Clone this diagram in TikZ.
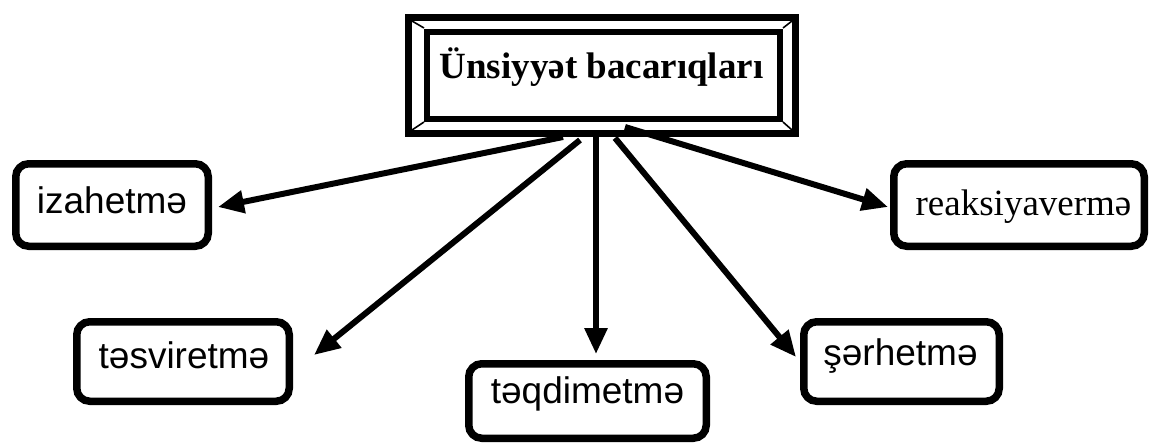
\documentclass[tikz,border=0pt]{standalone}
\usepackage{fontspec}
\setmainfont{Liberation Serif}
\newfontfamily\arialf{Liberation Sans}
\usetikzlibrary{arrows.meta,calc}
\tikzset{
  box/.style={draw, line width=7.5pt, rounded corners=13pt, inner sep=0pt},
  lblsans/.style={font=\arialf\fontsize{37}{44}\selectfont, inner sep=0pt, anchor=base},
  lblserif/.style={font=\fontsize{37}{44}\selectfont, inner sep=0pt, anchor=base},
  arr/.style={line width=6pt, -{Triangle[length=26pt,width=22pt]}},
  bevel/.style={line width=1.6pt}
}
\begin{document}
\begin{tikzpicture}[x=1pt,y=-1pt]
\useasboundingbox (0,0) rectangle (1150,445);
% title frame
\node[draw, line width=7pt, minimum width=387pt, minimum height=116pt, inner sep=0pt] (title) at (602,75.5) {};
\node[draw, line width=6pt, minimum width=353pt, minimum height=87pt, inner sep=0pt] (titlein) at (603.5,75) {};
\draw[bevel] (412,21) -- (424,28);
\draw[bevel] (792,21) -- (783,28);
\draw[bevel] (412,130) -- (424,122);
\draw[bevel] (792,130) -- (783,122);
\node[font=\bfseries\fontsize{37}{44}\selectfont, inner sep=0pt, anchor=base] (titletext) at (601.5,78) {Ünsiyyət bacarıqları};
% boxes
\node[box, minimum width=192.5pt, minimum height=82.5pt] (iz) at (112,205) {};
\node[lblsans] (iztext) at (112,213) {izahetmə};
\node[box, minimum width=250.5pt, minimum height=82.5pt] (re) at (1019,205) {};
\node[lblserif] (retext) at (1023.5,215) {reaksiyavermə};
\node[box, minimum width=212.5pt, minimum height=79.5pt] (ts) at (183,361.5) {};
\node[lblsans] (tstext) at (184,368) {təsviretmə};
\node[box, minimum width=237.5pt, minimum height=74.5pt] (tq) at (587.5,401) {};
\node[lblsans] (tqtext) at (587.5,403) {təqdimetmə};
\node[box, minimum width=195.5pt, minimum height=79.5pt] (sr) at (901.5,361.5) {};
\node[lblsans] (srtext) at (900.5,365) {şərhetmə};
% arrows
\draw[arr] ($(title.center)+(-39,61.5)$) -- ($(iz.east)+(6,2)$);
\draw[arr] ($(title.center)+(-22,64.5)$) -- ($(ts.east)+(21,-6.5)$);
\draw[arr] ($(title.center)+(-6,58)$) -- ($(tq.north)+(8.5,-6)$);
\draw[arr] ($(title.center)+(13,62.5)$) -- ($(sr.west)+(-4,-4.5)$);
\draw[arr] ($(title.center)+(23,51.5)$) -- ($(re.west)+(-2,2)$);
\end{tikzpicture}
\end{document}
